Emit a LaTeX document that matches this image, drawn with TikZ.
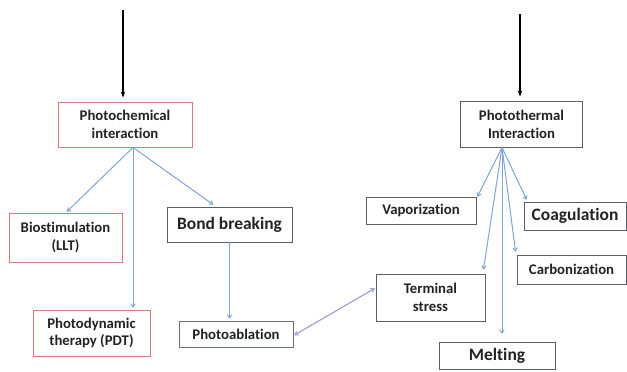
\documentclass[tikz,border=0pt]{standalone}
\usepackage{fontspec}
\setmainfont[Ligatures=NoCommon]{Carlito}
\usetikzlibrary{arrows.meta,calc}
\definecolor{redbox}{HTML}{D9787C}
\definecolor{graybox}{HTML}{5A5F6A}
\definecolor{bluearr}{HTML}{7FA5D6}
\definecolor{lavarr}{HTML}{9A9CD2}
\definecolor{txt}{HTML}{222222}
\begin{document}
\begin{tikzpicture}[x=1bp,y=-1bp,
  box/.style={draw, line width=0.9bp, inner sep=0pt, align=center, text=txt, font=\bfseries\fontsize{14.8}{18}\selectfont},
  rbox/.style={box, draw=redbox},
  gbox/.style={box, draw=graybox},
  big/.style={font=\bfseries\fontsize{17.5}{20}\selectfont},
  blk/.style={draw=black, line width=1.1bp, -{Stealth[length=6bp,width=4.5bp]}},
  blu/.style={draw=bluearr, line width=1bp, -{To[length=4bp,width=5bp]}},
  lav/.style={draw=lavarr, line width=1.1bp, {To[length=4bp,width=5bp]}-{To[length=4bp,width=5bp]}}
]
\useasboundingbox (0,0) rectangle (627,371);

\node[rbox, minimum width=134bp, minimum height=45bp] (pc) at (125,124.5) {Photochemical\\interaction};
\node[gbox, minimum width=122bp, minimum height=46bp] (pt) at (521.5,124) {Photothermal\\Interaction};
\node[rbox, minimum width=113bp, minimum height=49bp] (bio) at (65.5,237.5) {Biostimulation\\(LLT)};
\node[gbox, big, minimum width=125bp, minimum height=35bp] (bond) at (229.5,224.5) {Bond breaking};
\node[rbox, minimum width=117bp, minimum height=46bp] (pdt) at (91.5,333) {Photodynamic\\therapy (PDT)};
\node[box, draw=graybox!70!redbox, minimum width=114bp, minimum height=26bp] (pa) at (236,334) {Photoablation};
\node[gbox, minimum width=110bp, minimum height=27bp] (vap) at (421,210.5) {Vaporization};
\node[gbox, big, minimum width=102bp, minimum height=28bp] (coag) at (575,216) {Coagulation};
\node[gbox, minimum width=109bp, minimum height=29bp] (carb) at (571.5,269.5) {Carbonization};
\node[gbox, minimum width=109bp, minimum height=47bp] (ts) at (430.5,297.5) {Terminal\\stress};
\node[gbox, big, minimum width=116bp, minimum height=27bp] (melt) at (497,355.5) {Melting};

\coordinate (topL) at (123,10);
\coordinate (topR) at (520,14);
\draw[blk, shorten >=4bp] (topL) -- (topL |- pc.north);
\draw[blk, shorten >=4bp] (topR) -- (topR |- pt.north);

\coordinate (o1) at ($(pc.south)+(8,0)$);
\draw[blu] (o1) -- ($(bio.north)+(1.5,-1)$);
\draw[blu, shorten >=2bp] (o1) -- (o1 |- pdt.north);
\draw[blu] (o1) -- ($(bond.north)+(-16.5,-2)$);
\draw[blu, shorten >=2bp] (bond.south) -- (bond.south |- pa.north);
\draw[lav] ($(pa.east)+(1,1)$) -- ($(ts.west)+(-1,-9)$);

\coordinate (o2) at ($(pt.south)+(-19.5,0)$);
\draw[blu] (o2) -- ($(vap.north east)+(1,0)$);
\draw[blu] (o2) -- ($(coag.north west)+(3,-2)$);
\draw[blu] (o2) -- ($(carb.north west)+(-1,-3)$);
\draw[blu] (o2) -- ($(ts.north east)+(-2,-4)$);
\draw[blu, shorten >=8bp] (o2) -- (o2 |- melt.north);
\end{tikzpicture}
\end{document}
